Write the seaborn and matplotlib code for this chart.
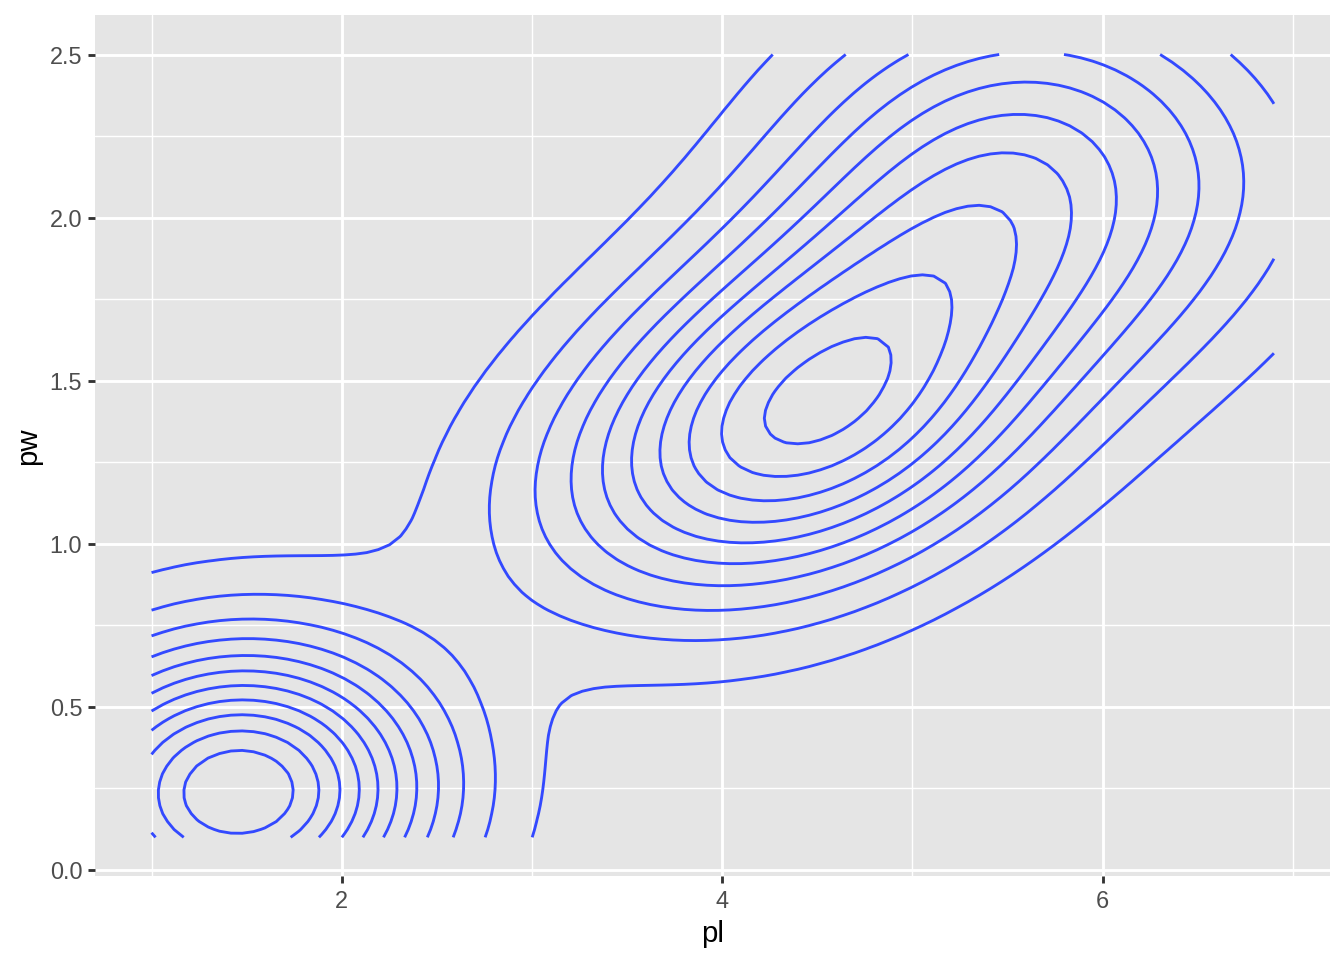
import numpy as np
import matplotlib
matplotlib.use("Agg")
import matplotlib.pyplot as plt
import seaborn as sns

# iris: petal length (pl) and petal width (pw)
pl = [1.4, 1.4, 1.3, 1.5, 1.4, 1.7, 1.4, 1.5, 1.4, 1.5, 1.5, 1.6, 1.4, 1.1, 1.2, 1.5, 1.3, 1.4, 1.7, 1.5,
      1.7, 1.5, 1.0, 1.7, 1.9, 1.6, 1.6, 1.5, 1.4, 1.6, 1.6, 1.5, 1.5, 1.4, 1.5, 1.2, 1.3, 1.4, 1.3, 1.5,
      1.3, 1.3, 1.3, 1.6, 1.9, 1.4, 1.6, 1.4, 1.5, 1.4,
      4.7, 4.5, 4.9, 4.0, 4.6, 4.5, 4.7, 3.3, 4.6, 3.9, 3.5, 4.2, 4.0, 4.7, 3.6, 4.4, 4.5, 4.1, 4.5, 3.9,
      4.8, 4.0, 4.9, 4.7, 4.3, 4.4, 4.8, 5.0, 4.5, 3.5, 3.8, 3.7, 3.9, 5.1, 4.5, 4.5, 4.7, 4.4, 4.1, 4.0,
      4.4, 4.6, 4.0, 3.3, 4.2, 4.2, 4.2, 4.3, 3.0, 4.1,
      6.0, 5.1, 5.9, 5.6, 5.8, 6.6, 4.5, 6.3, 5.8, 6.1, 5.1, 5.3, 5.5, 5.0, 5.1, 5.3, 5.5, 6.7, 6.9, 5.0,
      5.7, 4.9, 6.7, 4.9, 5.7, 6.0, 4.8, 4.9, 5.6, 5.8, 6.1, 6.4, 5.6, 5.1, 5.6, 6.1, 5.6, 5.5, 4.8, 5.4,
      5.6, 5.1, 5.1, 5.9, 5.7, 5.2, 5.0, 5.2, 5.4, 5.1]
pw = [0.2, 0.2, 0.2, 0.2, 0.2, 0.4, 0.3, 0.2, 0.2, 0.1, 0.2, 0.2, 0.1, 0.1, 0.2, 0.4, 0.4, 0.3, 0.3, 0.3,
      0.2, 0.4, 0.2, 0.5, 0.2, 0.2, 0.4, 0.2, 0.2, 0.2, 0.2, 0.4, 0.1, 0.2, 0.2, 0.2, 0.2, 0.1, 0.2, 0.2,
      0.3, 0.3, 0.2, 0.6, 0.4, 0.3, 0.2, 0.2, 0.2, 0.2,
      1.4, 1.5, 1.5, 1.3, 1.5, 1.3, 1.6, 1.0, 1.3, 1.4, 1.0, 1.5, 1.0, 1.4, 1.3, 1.4, 1.5, 1.0, 1.5, 1.1,
      1.8, 1.3, 1.5, 1.2, 1.3, 1.4, 1.4, 1.7, 1.5, 1.0, 1.1, 1.0, 1.2, 1.6, 1.5, 1.6, 1.5, 1.3, 1.3, 1.3,
      1.2, 1.4, 1.2, 1.0, 1.3, 1.2, 1.3, 1.3, 1.1, 1.3,
      2.5, 1.9, 2.1, 1.8, 2.2, 2.1, 1.7, 1.8, 1.8, 2.5, 2.0, 1.9, 2.1, 2.0, 2.4, 2.3, 1.8, 2.2, 2.3, 1.5,
      2.3, 2.0, 2.0, 1.8, 2.1, 1.8, 1.8, 1.8, 2.1, 1.6, 1.9, 2.0, 2.2, 1.5, 1.4, 2.3, 2.4, 1.8, 1.8, 2.1,
      2.4, 2.3, 1.9, 2.3, 2.5, 2.3, 1.9, 2.0, 2.3, 1.8]

x_ticks = [2, 4, 6]
y_ticks = [0.0, 0.5, 1.0, 1.5, 2.0, 2.5]


def bandwidth_nrd(v):
    q1, q3 = np.quantile(v, [0.25, 0.75])
    return 4 * 1.06 * min(np.std(v, ddof=1), (q3 - q1) / 1.34) * len(v) ** (-0.2)


def pretty(lo, hi, n=10):
    cell = (hi - lo) / n
    base = 10 ** np.floor(np.log10(cell))
    unit = base
    if 2 * base - cell < 1.5 * (cell - unit):
        unit = 2 * base
    if 5 * base - cell < 2.75 * (cell - unit):
        unit = 5 * base
    if 10 * base - cell < 1.5 * (cell - unit):
        unit = 10 * base
    start = np.floor(lo / unit + 1e-7) * unit
    end = np.ceil(hi / unit - 1e-7) * unit
    return np.arange(start, end + unit / 2, unit)


def dnorm(u):
    return np.exp(-0.5 * u ** 2) / np.sqrt(2 * np.pi)


# 2d density like MASS::kde2d (as in geom_density_2d)
x = np.array(pl)
y = np.array(pw)
gx = np.linspace(x.min(), x.max(), 100)
gy = np.linspace(y.min(), y.max(), 100)
hx = bandwidth_nrd(x) / 4
hy = bandwidth_nrd(y) / 4
kx = dnorm((gx[:, None] - x[None, :]) / hx)
ky = dnorm((gy[:, None] - y[None, :]) / hy)
z = kx @ ky.T / (len(x) * hx * hy)
levels = [b for b in pretty(z.min(), z.max()) if z.min() < b < z.max()]

sns.set_theme(style="darkgrid", rc={
    "axes.facecolor": "#E5E5E5",
    "grid.color": "white",
    "axes.edgecolor": "#E5E5E5",
})
plt.rcParams["font.family"] = ["Liberation Sans", "DejaVu Sans"]

fig, ax = plt.subplots(figsize=(7, 5), dpi=192)
fig.subplots_adjust(left=0.071, right=0.9896, top=0.984, bottom=0.087)

ax.contour(gx, gy, z.T, levels=levels, colors="#3349FF", linewidths=1.07)

ax.set_xlim(0.705, 7.195)
ax.set_ylim(-0.02, 2.62)
ax.set_xticks(x_ticks)
ax.set_xticklabels([str(t) for t in x_ticks])
ax.set_yticks(y_ticks)
ax.set_yticklabels([f"{t:.1f}" for t in y_ticks])
ax.set_xticks([1, 3, 5, 7], minor=True)
ax.set_yticks([0.25, 0.75, 1.25, 1.75, 2.25], minor=True)
ax.grid(which="major", color="white", linewidth=1.07)
ax.grid(which="minor", color="white", linewidth=0.53)
ax.set_axisbelow(True)
for s in ax.spines.values():
    s.set_visible(False)
ax.tick_params(which="major", length=2.75, width=1.07, color="#333333",
               labelcolor="#4D4D4D", labelsize=8.8, pad=2.2,
               bottom=True, left=True)
ax.tick_params(which="minor", length=0)
ax.set_xlabel("pl", fontsize=11, color="black", labelpad=2.75)
ax.set_ylabel("pw", fontsize=11, color="black", labelpad=2.75)

fig.savefig("out.png", dpi=192)
